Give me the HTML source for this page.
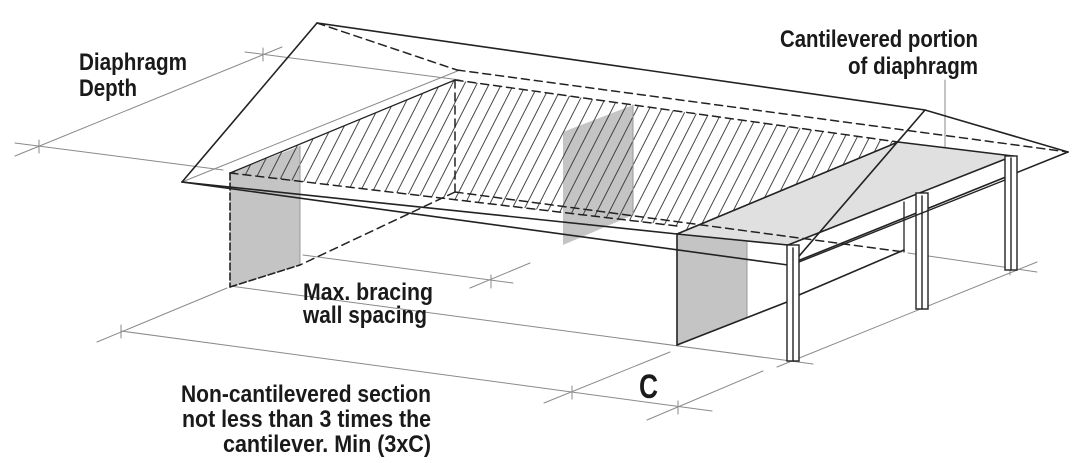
<!DOCTYPE html>
<html><head><meta charset="utf-8"><style>
html,body{margin:0;padding:0;background:#fff;}
svg{display:block;}
text{font-family:"Liberation Sans Narrow","Liberation Sans",sans-serif;fill:#1a1a1a;font-weight:bold;}
</style></head><body>
<svg width="1073" height="463" viewBox="0 0 1073 463" xmlns="http://www.w3.org/2000/svg">
<defs>
<pattern id="h" patternUnits="userSpaceOnUse" width="11" height="40" patternTransform="rotate(27)">
<line x1="1" y1="0" x2="1" y2="40" stroke="#333" stroke-width="0.9"/>
</pattern>
</defs>
<g fill="none" stroke-linecap="round">
<g stroke="#8a8a8a" stroke-width="1">
<line x1="15" y1="143" x2="223" y2="170"/>
<line x1="15" y1="156" x2="282" y2="47"/>
<line x1="245" y1="52" x2="460" y2="80"/>
<line x1="39" y1="140" x2="39" y2="153"/>
<line x1="263" y1="48" x2="263" y2="61"/>
<line x1="182" y1="182" x2="460" y2="70"/>
<line x1="303" y1="255" x2="513" y2="283"/>
<line x1="470" y1="288" x2="530" y2="263"/>
<line x1="491" y1="275" x2="491" y2="288"/>
<line x1="230" y1="286" x2="813" y2="364"/>
<line x1="97" y1="342" x2="227" y2="288"/>
<line x1="121" y1="331" x2="712" y2="411"/>
<line x1="121" y1="325" x2="121" y2="338"/>
<line x1="544" y1="403" x2="670" y2="352"/>
<line x1="572" y1="386" x2="572" y2="399"/>
<line x1="647" y1="420" x2="763" y2="371"/>
<line x1="678" y1="401" x2="678" y2="414"/>
<line x1="777" y1="367" x2="1037" y2="262"/>
<line x1="908" y1="253" x2="1037" y2="272"/>
<line x1="1010" y1="262" x2="1010" y2="275"/>
<line x1="945" y1="80" x2="945" y2="158"/>
</g>
<polygon points="230,173 300,146 300,265 230,287" fill="#c4c4c4" stroke="none"/>
<polygon points="563,132 633,105 633,215 563,245" fill="#c4c4c4" stroke="none"/>
<polygon points="677,234 747,242 747,317 677,345" fill="#c4c4c4" stroke="none"/>
<polygon points="230,173 455,80 898,142 677,234 677,226" fill="url(#h)" stroke="none"/>
<polygon points="677,234 898,142 1013,156 788,245" fill="#e0e0e0" stroke="none"/>
<line x1="633" y1="105" x2="633" y2="215" stroke="#999" stroke-width="1"/>
<line x1="300" y1="146" x2="300" y2="265" stroke="#999" stroke-width="1"/>
<line x1="747" y1="242" x2="747" y2="317" stroke="#999" stroke-width="1"/>
<g stroke="#222" stroke-width="1.6">
<polyline points="182,182 317,23 925,110 1068,152"/>
<line x1="182" y1="182" x2="677" y2="234"/>
<line x1="182" y1="182" x2="788" y2="265"/>
<line x1="677" y1="234" x2="788" y2="245"/>
<line x1="677" y1="234" x2="898" y2="142"/>
<line x1="898" y1="142" x2="1013" y2="156"/>
<line x1="788" y1="245" x2="1013" y2="156"/>
<line x1="790" y1="264" x2="1068" y2="152"/>
<line x1="925" y1="110" x2="794" y2="262"/>
<line x1="230" y1="173" x2="455" y2="80" stroke-width="1.3"/>
<line x1="230" y1="173" x2="230" y2="287" stroke-dasharray="7,3"/>
<line x1="230" y1="287" x2="300" y2="265" stroke-dasharray="7,3"/>
<line x1="677" y1="234" x2="677" y2="345"/>
<line x1="677" y1="345" x2="787" y2="302"/>
<line x1="799" y1="295" x2="904" y2="250"/>
<line x1="904" y1="202" x2="904" y2="252" stroke-width="1.3"/>
</g>
<g stroke="#222" stroke-width="1.5" stroke-dasharray="8,5">
<line x1="317" y1="23" x2="457" y2="70"/>
<line x1="457" y1="70" x2="1068" y2="152"/>
<line x1="455" y1="80" x2="898" y2="142"/>
<line x1="230" y1="173" x2="677" y2="226"/>
<line x1="455" y1="80" x2="455" y2="192"/>
<line x1="455" y1="192" x2="904" y2="252"/>
<line x1="455" y1="192" x2="300" y2="265"/>
</g>
<g stroke="#222" stroke-width="1.4" fill="#fff">
<rect x="787" y="245" width="12" height="116"/>
<line x1="793" y1="248" x2="793" y2="361"/>
<rect x="916" y="193" width="12" height="116"/>
<line x1="922" y1="196" x2="922" y2="309"/>
<rect x="1005" y="156" width="12" height="114"/>
<line x1="1011" y1="158" x2="1011" y2="270"/>
</g>
<line x1="799" y1="262" x2="1005" y2="180" stroke="#222" stroke-width="1.4"/>
</g>
<g font-size="24">
<text x="79" y="70" textLength="108" lengthAdjust="spacingAndGlyphs">Diaphragm</text>
<text x="79" y="96" textLength="58" lengthAdjust="spacingAndGlyphs">Depth</text>
<text x="780" y="47" textLength="198" lengthAdjust="spacingAndGlyphs">Cantilevered portion</text>
<text x="848" y="74" textLength="130" lengthAdjust="spacingAndGlyphs">of diaphragm</text>
<text x="303" y="300" textLength="130" lengthAdjust="spacingAndGlyphs">Max. bracing</text>
<text x="303" y="323" textLength="124" lengthAdjust="spacingAndGlyphs">wall spacing</text>
<text x="181" y="402" textLength="250" lengthAdjust="spacingAndGlyphs">Non-cantilevered section</text>
<text x="182" y="427" textLength="249" lengthAdjust="spacingAndGlyphs">not less than 3 times the</text>
<text x="223" y="452" textLength="208" lengthAdjust="spacingAndGlyphs">cantilever. Min (3xC)</text>
<text x="639" y="398" font-size="34" textLength="19" lengthAdjust="spacingAndGlyphs">C</text>
</g>
</svg>
</body></html>
